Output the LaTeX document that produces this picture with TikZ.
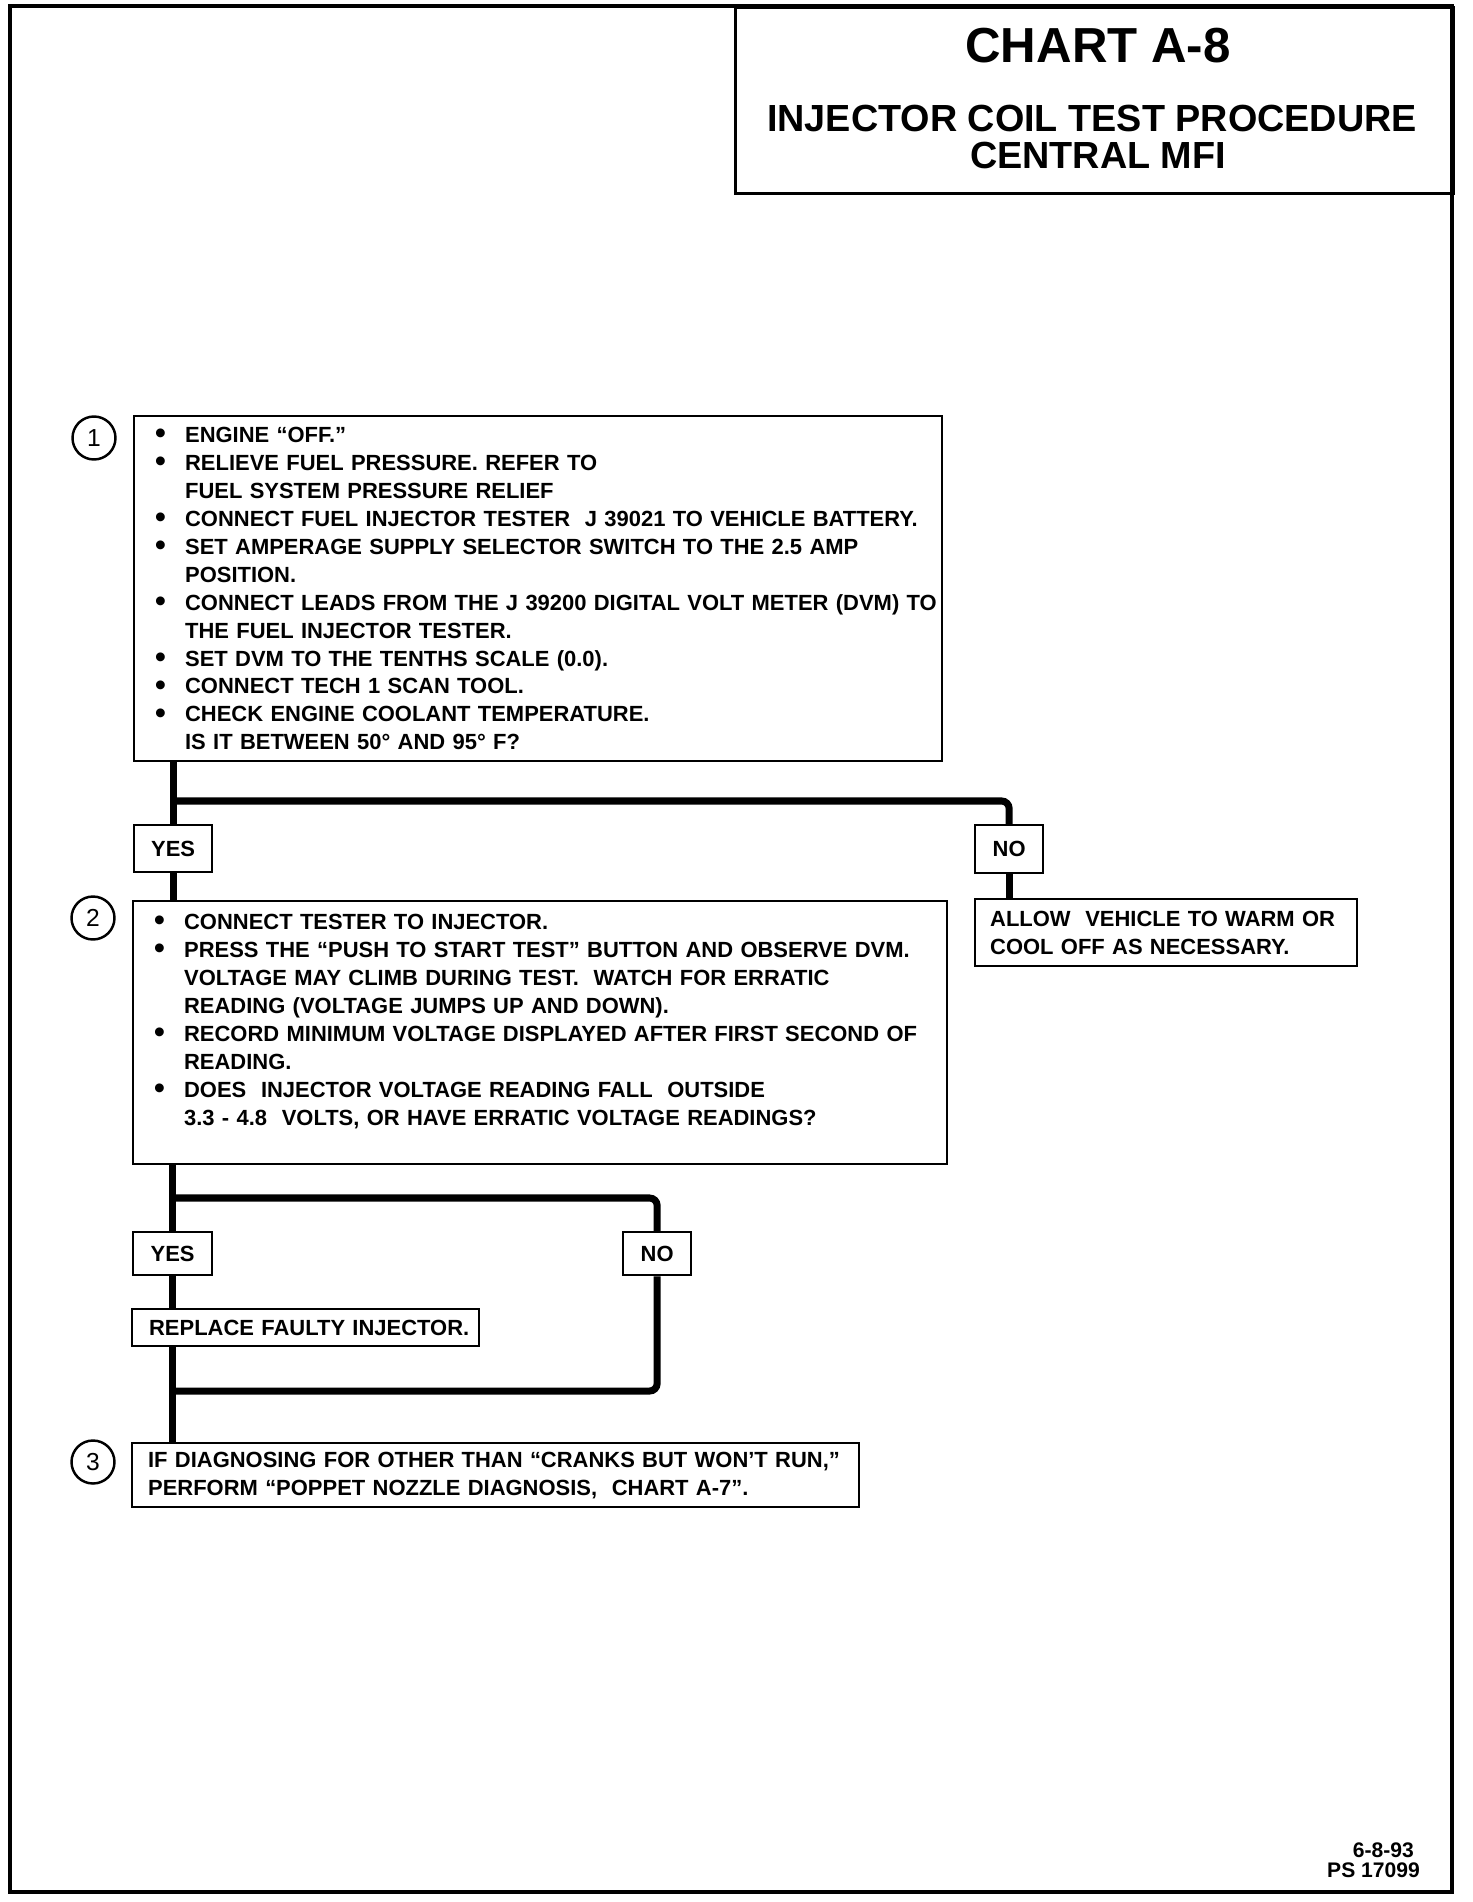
\documentclass[tikz,border=0pt]{standalone}
\usepackage{fontspec}
\setmainfont{Liberation Sans}
\usetikzlibrary{positioning}

\newcommand{\bul}[1]{\makebox[0.6cm][l]{\smash{\raisebox{-0.1ex}{\scalebox{1.4}{\textbullet}}}}\mbox{#1}}
\newcommand{\cnt}[1]{\hspace*{0.6cm}\mbox{#1}}

\begin{document}
\begin{tikzpicture}[x=0.02cm, y=-0.02cm]
    \tikzstyle{stepbox} = [rectangle, draw=black, line width=1.3pt, anchor=north west,
        align=left, font=\bfseries\fontsize{12.5}{15.9}\selectfont]
    \tikzstyle{answer} = [rectangle, draw=black, line width=1.3pt, anchor=north west,
        inner sep=0pt, font=\bfseries\fontsize{12.5}{15}\selectfont]
    \tikzstyle{stepnum} = [circle, draw=black, line width=1.4pt, minimum size=0.86cm,
        inner sep=0pt, font=\fontsize{14}{14}\selectfont]
    \tikzstyle{flow} = [line width=4pt, rounded corners=0.15cm]
    \useasboundingbox (0,0) rectangle (1472,1902);
    \draw [line width=2.6pt] (10,6) rectangle (1452,1892);

    \node (titlebox) [rectangle, draw=black, line width=1.8pt, anchor=north west,
        minimum width=14.36cm, minimum height=3.72cm] at (734,6) {};
    \node (chart) [anchor=base, font=\bfseries\fontsize{28}{28}\selectfont] at (1098,63) {CHART A-8};
    \node (proc) [anchor=base, font=\bfseries\fontsize{21.5}{22}\selectfont] at (1092,132) {INJECTOR COIL TEST PROCEDURE};
    \node (mfi) [anchor=base, font=\bfseries\fontsize{21.5}{22}\selectfont] at (1098,169) {CENTRAL MFI};

    \node (num1) [stepnum] at (94,438) {1};
    \node (step1) [stepbox, minimum width=16.16cm, minimum height=6.9cm, text width=15.32cm,
        inner xsep=0.42cm] at (133,415) {%
        \bul{ENGINE “OFF.”}\\
        \bul{RELIEVE FUEL PRESSURE. REFER TO}\\
        \cnt{FUEL SYSTEM PRESSURE RELIEF}\\
        \bul{CONNECT FUEL INJECTOR TESTER~ J 39021 TO VEHICLE BATTERY.}\\
        \bul{SET AMPERAGE SUPPLY SELECTOR SWITCH TO THE 2.5 AMP}\\
        \cnt{POSITION.}\\
        \bul{CONNECT LEADS FROM THE J 39200 DIGITAL VOLT METER (DVM) TO}\\
        \cnt{THE FUEL INJECTOR TESTER.}\\
        \bul{SET DVM TO THE TENTHS SCALE (0.0).}\\
        \bul{CONNECT TECH 1 SCAN TOOL.}\\
        \bul{CHECK ENGINE COOLANT TEMPERATURE.}\\
        \cnt{IS IT BETWEEN 50° AND 95° F?}};

    \node (yes1) [answer, minimum width=1.56cm, minimum height=0.94cm] at (133,824) {YES};
    \node (no1) [answer, minimum width=1.36cm, minimum height=0.96cm] at (974,824) {NO};

    \node (num2) [stepnum] at (93,918) {2};
    \node (step2) [stepbox, minimum width=16.28cm, minimum height=5.26cm, text width=15.44cm,
        inner xsep=0.42cm] at (132,900) {%
        \bul{CONNECT TESTER TO INJECTOR.}\\
        \bul{PRESS THE “PUSH TO START TEST” BUTTON AND OBSERVE DVM.}\\
        \cnt{VOLTAGE MAY CLIMB DURING TEST.~ WATCH FOR ERRATIC}\\
        \cnt{READING (VOLTAGE JUMPS UP AND DOWN).}\\
        \bul{RECORD MINIMUM VOLTAGE DISPLAYED AFTER FIRST SECOND OF}\\
        \cnt{READING.}\\
        \bul{DOES~ INJECTOR VOLTAGE READING FALL~ OUTSIDE}\\
        \cnt{3.3 - 4.8~ VOLTS, OR HAVE ERRATIC VOLTAGE READINGS?}\rule[-0.52cm]{0pt}{0pt}};

    \node (warm) [stepbox, minimum width=7.64cm, minimum height=1.34cm, text width=7.04cm,
        inner xsep=0.3cm] at (974,898) {%
        \mbox{ALLOW~ VEHICLE TO WARM OR}\\
        \mbox{COOL OFF AS NECESSARY.}};

    \node (yes2) [answer, minimum width=1.58cm, minimum height=0.86cm] at (132,1231) {YES};
    \node (no2) [answer, minimum width=1.36cm, minimum height=0.86cm] at (622,1231) {NO};

    \node (replace) [stepbox, minimum width=6.94cm, minimum height=0.74cm, text width=6.26cm,
        inner xsep=0.34cm] at (131,1308) {\mbox{REPLACE FAULTY INJECTOR.}};

    \node (num3) [stepnum] at (93,1462) {3};
    \node (step3) [stepbox, minimum width=14.54cm, minimum height=1.28cm, text width=13.9cm,
        inner xsep=0.32cm] at (131,1442) {%
        \mbox{IF DIAGNOSING FOR OTHER THAN “CRANKS BUT WON’T RUN,”}\\
        \mbox{PERFORM “POPPET NOZZLE DIAGNOSIS,~ CHART A-7”.}};

    \node (date) [anchor=base east, font=\bfseries\fontsize{12}{12}\selectfont] at (1420,1857) {6-8-93};
    \node (psno) [anchor=base east, font=\bfseries\fontsize{12}{12}\selectfont] at (1426,1877) {PS 17099};

    \coordinate (split1) at (172,801);
    \coordinate (split2) at (171.5,1198);
    \coordinate (join2) at (171.5,1391);
    \draw [flow] (yes1.north |- step1.south) -- (yes1.north);
    \draw [flow] (split1) -| (no1.north);
    \draw [flow] (yes1.south) -- (yes1.south |- step2.north);
    \draw [flow] (no1.south) -- (no1.south |- warm.north);
    \draw [flow] (yes2.north |- step2.south) -- (yes2.north);
    \draw [flow] (split2) -| (no2.north);
    \draw [flow] (yes2.south) -- (yes2.south |- replace.north);
    \draw [flow] (yes2.south |- replace.south) -- (yes2.south |- step3.north);
    \draw [flow] (no2.south) |- (join2);
\end{tikzpicture}
\end{document}
